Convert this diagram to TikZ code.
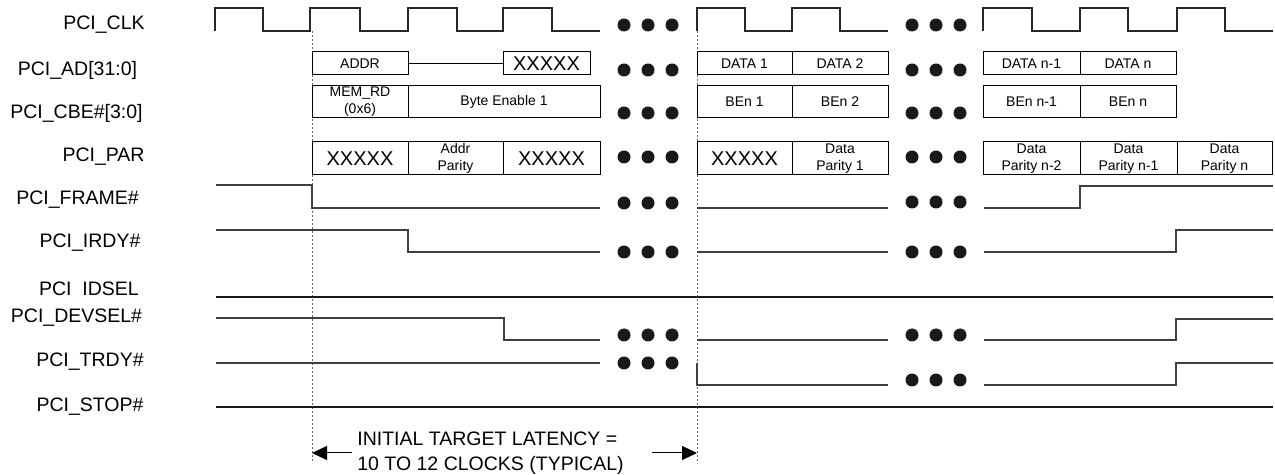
\documentclass[tikz,border=0pt]{standalone}
\usepackage{fontspec}
\setmainfont{Liberation Sans}
\usetikzlibrary{arrows.meta}
\newcommand{\tb}[7]{\node[#6, minimum width={(#3-#2)*0.5pt}, minimum height={(#5-#4)*0.5pt}] (#1) at ({(#2+#3)/2},{(#4+#5)/2}) {#7};}
\newcommand{\mydots}[2]{\foreach \dx in {0,24,48} \fill[dot] ({#1+\dx},#2) circle[radius=3.25pt];}
\begin{document}
\begin{tikzpicture}[x=0.5pt,y=-0.5pt,
  lbl/.style={font=\fontsize{9.75}{11}\selectfont, inner sep=0pt},
  box/.style={draw=black, line width=0.5pt, inner sep=0pt, align=center, font=\fontsize{7}{8.5}\selectfont},
  bigbox/.style={box, font=\fontsize{10}{12}\selectfont},
  sig/.style={draw=black!75, line width=0.6pt},
  clk/.style={draw=black!85, line width=0.9pt},
  refl/.style={draw=black!60, line width=0.5pt, dash pattern=on 1.2pt off 0.8pt},
  dot/.style={fill=black!90},
  arr/.style={-{Triangle[length=7.5pt,width=7pt]}, line width=0.5pt}]
\useasboundingbox (0,0) rectangle (1275,475);

% labels
\node[lbl] (lclk)  at (104,25)  {PCI\_CLK};
\node[lbl] (lad)   at (77.5,70) {PCI\_AD[31:0]};
\node[lbl] (lcbe)  at (76.5,113){PCI\_CBE\#[3:0]};
\node[lbl] (lpar)  at (103.5,157){PCI\_PAR};
\node[lbl] (lfrm)  at (77.5,200){PCI\_FRAME\#};
\node[lbl] (lirdy) at (90,243)  {PCI\_IRDY\#};
\node[lbl] (lidsel)at (89,289)  {PCI\ \ IDSEL};
\node[lbl] (ldev)  at (76.5,318){PCI\_DEVSEL\#};
\node[lbl] (ltrdy) at (90,362)  {PCI\_TRDY\#};
\node[lbl] (lstop) at (90,407)  {PCI\_STOP\#};

% reference dashed lines
\coordinate (d1t) at (312,31); \coordinate (d1b) at (312,463);
\coordinate (d2t) at (697,31); \coordinate (d2b) at (697,463);
\draw[refl] (d1t) -- (d1b);
\draw[refl] (d2t) -- (d2b);

% clock
\draw[clk] (215,31)--(215,8)--(263,8)--(263,31)--(310,31)--(310,8)--(360,8)--(360,31)--(408,31)--(408,8)--(457,8)--(457,31)--(503,31)--(503,8)--(552,8)--(552,31)--(600,31);
\draw[clk] (697,31)--(697,8)--(745,8)--(745,31)--(792,31)--(792,8)--(840,8)--(840,31)--(888,31);
\draw[clk] (983,31)--(983,8)--(1032,8)--(1032,31)--(1080,31)--(1080,8)--(1128,8)--(1128,31)--(1177,31)--(1177,8)--(1225,8)--(1225,31)--(1273,31);

% AD
\tb{addr}{312}{408}{52}{75}{box}{ADDR}
\tb{adx}{503}{590}{52}{75}{bigbox}{XXXXX}
\draw[line width=0.5pt] (addr.east) -- (adx.west);
\tb{d1}{697}{792}{52}{75}{box}{DATA 1}
\tb{d2}{792}{888}{52}{75}{box}{DATA 2}
\tb{dn1}{983}{1080}{52}{75}{box}{DATA n-1}
\tb{dn}{1080}{1176}{52}{75}{box}{DATA n}

% CBE
\tb{memrd}{312}{408}{86}{118}{box}{MEM\_RD\\(0x6)}
\tb{be1}{408}{600}{86}{118}{box}{Byte Enable 1}
\tb{ben1}{697}{792}{86}{118}{box}{BEn 1}
\tb{ben2}{792}{888}{86}{118}{box}{BEn 2}
\tb{bennm}{983}{1080}{86}{118}{box}{BEn n-1}
\tb{benn}{1080}{1176}{86}{118}{box}{BEn n}

% PAR
\tb{px1}{312}{408}{142}{175}{bigbox}{XXXXX}
\tb{pa}{408}{503}{142}{175}{box}{Addr\\Parity}
\tb{px2}{503}{600}{142}{175}{bigbox}{XXXXX}
\tb{px3}{697}{792}{142}{175}{bigbox}{XXXXX}
\tb{dp1}{792}{888}{142}{175}{box}{Data\\Parity 1}
\tb{dpn2}{983}{1080}{142}{175}{box}{Data\\Parity n-2}
\tb{dpn1}{1080}{1177}{142}{175}{box}{Data\\Parity n-1}
\tb{dpn}{1177}{1272}{142}{175}{box}{Data\\Parity n}

% FRAME
\draw[sig] (216,185)--(312,185)--(312,208)--(600,208);
\draw[sig] (697,208)--(888,208);
\draw[sig] (984,208)--(1080,208)--(1080,186)--(1273,186);
% IRDY
\draw[sig] (216,230)--(408,230)--(408,252)--(600,252);
\draw[sig] (697,252)--(888,252);
\draw[sig] (984,252)--(1176,252)--(1176,230)--(1273,230);
% IDSEL
\draw[sig, draw=black!90] (216,297)--(1273,297);
% DEVSEL
\draw[sig] (216,318)--(504,318)--(504,340)--(600,340);
\draw[sig] (697,340)--(888,340);
\draw[sig] (984,340)--(1176,340)--(1176,319)--(1273,319);
% TRDY
\draw[sig] (216,363)--(600,363);
\draw[sig] (697,363)--(697,385)--(888,385);
\draw[sig] (984,385)--(1176,385)--(1176,363)--(1273,363);
% STOP
\draw[sig, draw=black!90] (216,407)--(1273,407);

% dots
\foreach \yy in {25,70,113,157,203,252,335,363} {\mydots{624}{\yy}}
\foreach \yy in {25,70,113,157,202,252,335,380} {\mydots{912}{\yy}}

% latency
\node[lbl, anchor=west, align=left, font=\fontsize{9.75}{12.5}\selectfont] (lat) at (357,453) {INITIAL TARGET LATENCY =\\10 TO 12 CLOCKS (TYPICAL)};
\coordinate (al) at (312,453);
\coordinate (ar) at (697,453);
\coordinate (als) at (352,453);
\coordinate (ars) at (652,453);
\draw[arr] (als) -- (al);
\draw[arr] (ars) -- (ar);
\end{tikzpicture}
\end{document}
